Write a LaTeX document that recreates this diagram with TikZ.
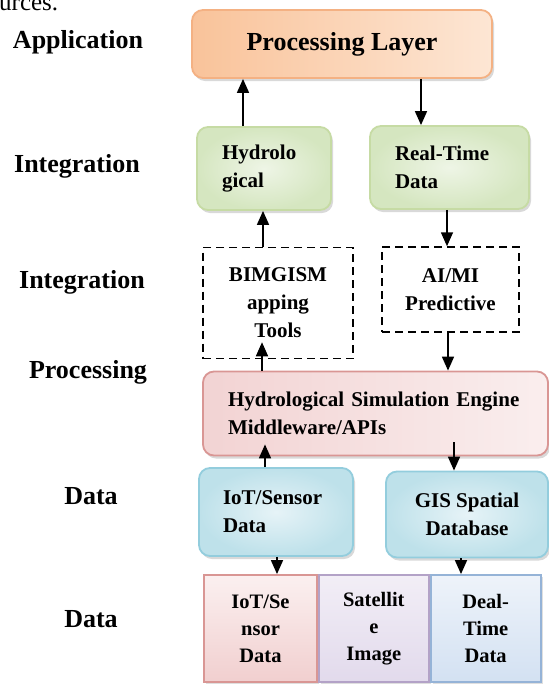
\documentclass[tikz,border=0pt]{standalone}
\usepackage{fontspec}
\setmainfont{Liberation Serif}
\usepackage{xcolor}
\usetikzlibrary{positioning,shadows,arrows.meta}

\definecolor{orLine}{HTML}{F4B183}
\definecolor{orDark}{HTML}{F9C39A}
\definecolor{orLight}{HTML}{FDE6D4}
\definecolor{grLine}{HTML}{C6DBA4}
\definecolor{grIn}{HTML}{EEF5E6}
\definecolor{grOut}{HTML}{D5E6C0}
\definecolor{pkLine}{HTML}{D99694}
\definecolor{pkDark}{HTML}{F2D3D3}
\definecolor{pkLight}{HTML}{FAEEEE}
\definecolor{blLine}{HTML}{93CDDD}
\definecolor{blIn}{HTML}{E6F3F7}
\definecolor{blOut}{HTML}{BEE1EA}
\definecolor{puLine}{HTML}{B3A2C7}
\definecolor{puTop}{HTML}{F2EEF6}
\definecolor{puBot}{HTML}{E2DAEC}
\definecolor{sbLine}{HTML}{95B3D7}
\definecolor{sbTop}{HTML}{EEF3FA}
\definecolor{sbBot}{HTML}{D3E1F2}
\definecolor{pcTop}{HTML}{FBF0F0}
\definecolor{pcBot}{HTML}{F1CFCF}

\begin{document}
\begin{tikzpicture}[x=1pt, y=-1pt,
    lbl/.style={font=\fontsize{26}{30}\selectfont\bfseries},
    txt/.style={font=\fontsize{21}{28}\selectfont\bfseries},
    rbox/.style={draw, rounded corners=11pt, line width=1.8pt, txt, drop shadow={shadow xshift=2pt, shadow yshift=-3pt, opacity=0.3}},
    dbox/.style={draw, dash pattern=on 8pt off 5pt, line width=1.5pt, txt, align=center},
    cell/.style={draw, line width=1.8pt, minimum height=107pt, font=\fontsize{20.5}{27}\selectfont\bfseries, align=center, drop shadow={shadow xshift=2pt, shadow yshift=-2pt, opacity=0.25}},
    arr/.style={-{Triangle[length=14pt,width=12pt]}, line width=1.6pt}]

    \useasboundingbox (0,0) rectangle (549,686);

    % cut-off text line above the figure
    \node [anchor=base west, inner sep=0pt, font=\fontsize{25}{30}\selectfont] (cut) at (-1,10) {urces.};

    % layer names
    \node [lbl] (lapp) at (78,42) {Application};
    \node [lbl] (lint1) at (77,166) {Integration};
    \node [lbl] (lint2) at (82,282) {Integration};
    \node [lbl] (lproc) at (88,372) {Processing};
    \node [lbl] (ldata1) at (91,496) {Data};
    \node [lbl] (ldata2) at (91,619) {Data};

    % top layer
    \node [rbox, draw=orLine, left color=orDark, right color=orLight, minimum width=300pt, minimum height=68pt, font=\fontsize{26}{30}\selectfont\bfseries] (layer) at (342,44) {Processing Layer};

    % integration
    \node [rbox, draw=grLine, inner color=grIn, outer color=grOut, minimum width=134pt, minimum height=83pt, inner xsep=25pt, text width=84pt, align=left] (hydro) at (264,168.5) {Hydrolo\\gical};
    \node [rbox, draw=grLine, inner color=grIn, outer color=grOut, minimum width=159pt, minimum height=83pt, inner xsep=25pt, text width=109pt, align=left] (realtime) at (449.5,167.5) {Real-Time\\Data};

    \node [dbox, minimum width=150pt, minimum height=111pt] (bim) at (278,303) {BIMGISM\\apping\\Tools};
    \node [dbox, minimum width=137pt, minimum height=85pt] (aimi) at (450.5,289.5) {AI/MI\\Predictive};

    % processing
    \node [rbox, draw=pkLine, left color=pkDark, right color=pkLight, minimum width=345pt, minimum height=84pt, inner xsep=25pt, text width=295pt, align=left] (engine) at (375.5,413.5) {Hydrological Simulation Engine\\Middleware/APIs};

    % data
    \node [rbox, draw=blLine, inner color=blIn, outer color=blOut, minimum width=154pt, minimum height=88pt, inner xsep=24pt, text width=106pt, align=left] (iot) at (276,512) {IoT/Sensor\\Data};
    \node [rbox, draw=blLine, inner color=blIn, outer color=blOut, minimum width=162pt, minimum height=86pt, align=center] (gis) at (467,514.5) {GIS Spatial\\Database};

    \node [cell, draw=pkLine, top color=pcTop, bottom color=pcBot, minimum width=113pt] (bsens) at (260.5,628.5) {IoT/Se\\nsor\\Data};
    \node [cell, draw=puLine, top color=puTop, bottom color=puBot, minimum width=110pt, right=0pt of bsens] (bsat) {Satellit\\e\\Image};
    \node [cell, draw=sbLine, top color=sbTop, bottom color=sbBot, minimum width=110pt, right=0pt of bsat] (breal) {Deal-\\Time\\Data};

    % arrows
    \draw [arr] (hydro.north -| 243,0) -- (layer.south -| 243,0);
    \draw [arr] (layer.south -| 421,0) -- (realtime.north -| 421,0);
    \draw [arr] (bim.north -| 263,0) -- (hydro.south -| 263,0);
    \draw [arr] (realtime.south -| 447,0) -- (aimi.north -| 447,0);
    \draw [arr] (engine.north -| 262,0) -- ([yshift=17pt]bim.south -| 262,0);
    \draw [arr] (aimi.south -| 448,0) -- (engine.north -| 448,0);
    \draw [arr] (iot.north -| 265,0) -- ([yshift=12pt]engine.south -| 265,0);
    \draw [arr] ([yshift=14pt]engine.south -| 454,0) -- (gis.north -| 454,0);
    \draw [arr] (iot.south -| 277,0) -- (bsens.north -| 277,0);
    \draw [arr] (gis.south -| 461,0) -- (breal.north -| 461,0);

\end{tikzpicture}
\end{document}
